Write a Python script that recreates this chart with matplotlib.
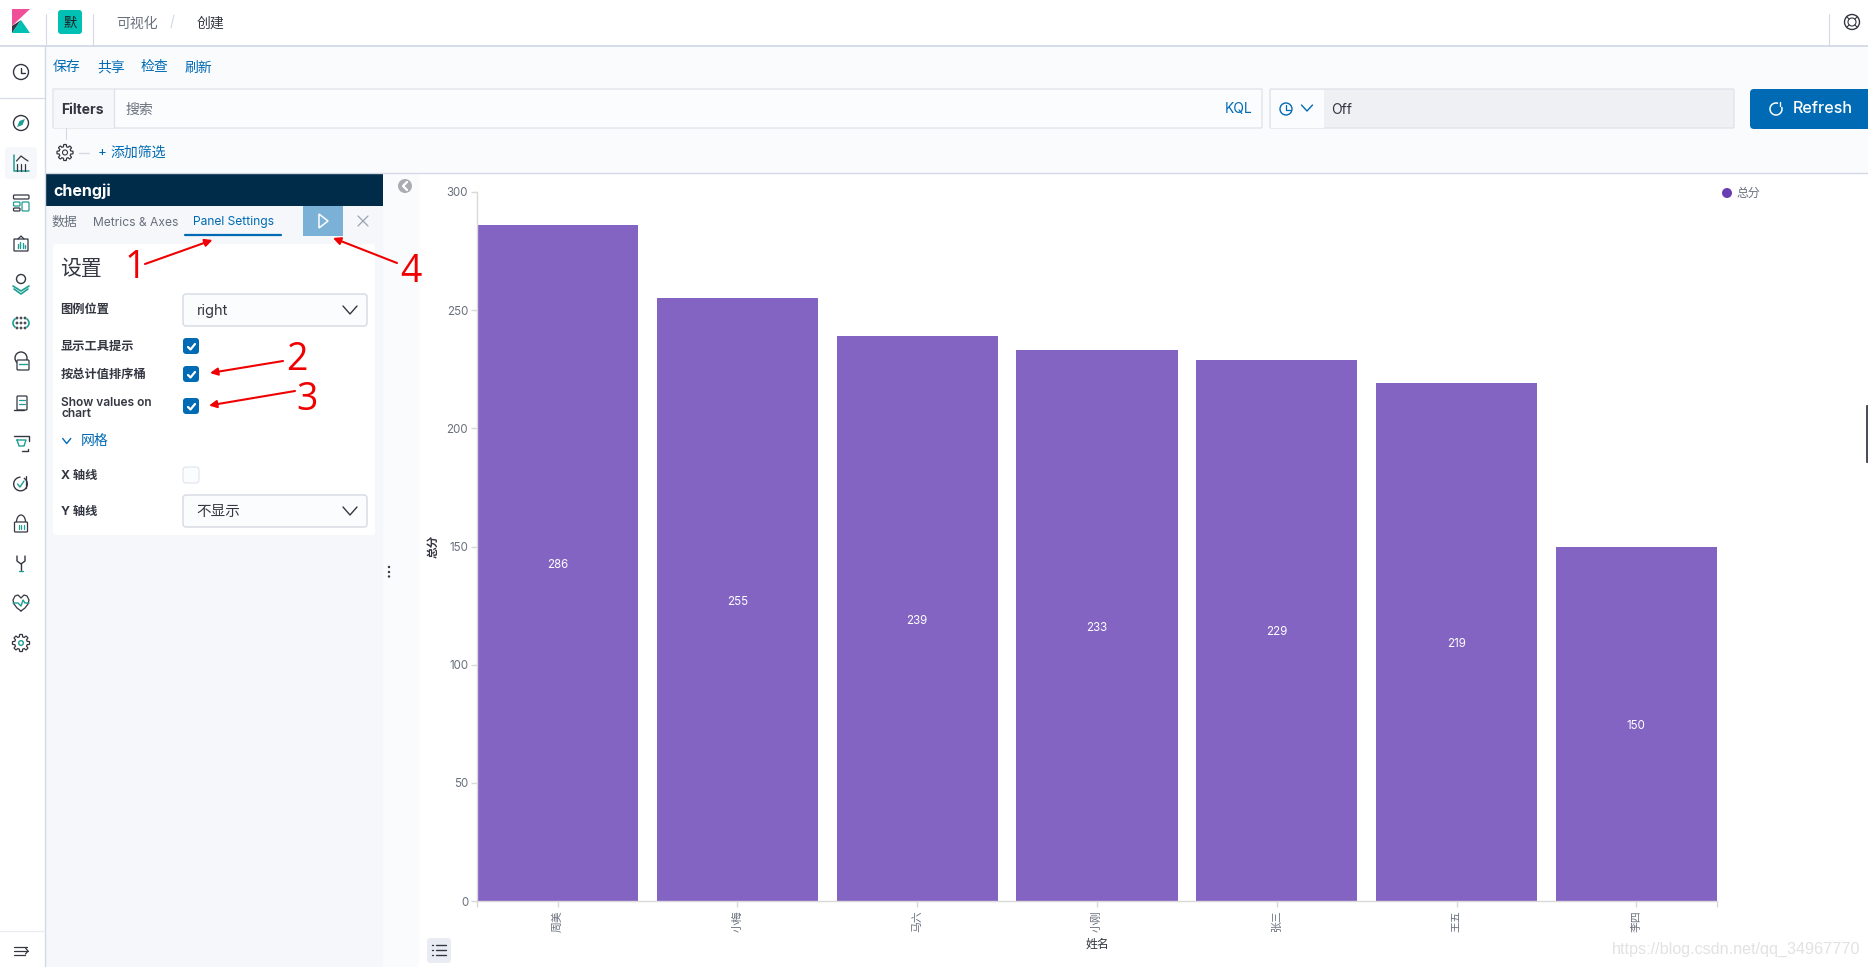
import math
import matplotlib
matplotlib.use('Agg')
import matplotlib.pyplot as plt
from matplotlib.patches import Rectangle, FancyBboxPatch, Circle, Polygon, Arc

plt.rcParams['font.family'] = ['Inter', 'Noto Sans CJK SC', 'DejaVu Sans']

names = ['周美', '小梅', '马六', '小刚', '张三', '王五', '李四']
totals = [286, 255, 239, 233, 229, 219, 150]
y_ticks = [0, 50, 100, 150, 200, 250, 300]
legend_label = '总分'
x_title = '姓名'
y_title = '总分'

W, H = 1868, 967
BLUE = '#006bb4'
DARK = '#343741'
TEAL = '#1f9e93'
BORDER = '#d3dae6'
PANEL = '#f5f7fa'
GREY = '#69707d'
RED = '#f00000'

fig = plt.figure(figsize=(W / 100, H / 100), dpi=100, facecolor='white')
ui = fig.add_axes([0, 0, 1, 1])
ui.set_xlim(0, W)
ui.set_ylim(H, 0)
ui.axis('off')


def box(x0, y0, x1, y1, color, edge='none', lw=0.0, z=1):
    ui.add_patch(Rectangle((x0, y0), x1 - x0, y1 - y0, fc=color, ec=edge, lw=lw, zorder=z))


def rbox(x0, y0, x1, y1, color, edge='none', lw=0.0, r=3, z=2):
    ui.add_patch(FancyBboxPatch((x0 + r, y0 + r), x1 - x0 - 2 * r, y1 - y0 - 2 * r,
                                boxstyle='round,pad=%s,rounding_size=%s' % (r, r),
                                fc=color, ec=edge, lw=lw, zorder=z))


def line(xs, ys, color=DARK, lw=1.0, z=4):
    ui.plot(xs, ys, color=color, lw=lw, zorder=z, solid_capstyle='round', solid_joinstyle='round')


def ring(x, y, r, color=DARK, lw=1.0, fc='none', z=4):
    ui.add_patch(Circle((x, y), r, fc=fc, ec=color, lw=lw, zorder=z))


def label(x, y, s, size=10, color=DARK, ha='left', weight='normal', z=5, **kw):
    ui.text(x, y + 1.5, s, fontsize=size, color=color, ha=ha, va='center', fontweight=weight, zorder=z, **kw)


def chevron(x, y, w=7, h=4, color=DARK, lw=1.0):
    line([x - w, x, x + w], [y - h, y + h, y - h], color, lw)


def checkbox(y0, on=True):
    if on:
        rbox(183, y0, 199, y0 + 16, BLUE, r=3)
        line([188, 190.5, 195], [y0 + 9, y0 + 11.5, y0 + 6], 'white', 1.6, z=5)
    else:
        rbox(183, y0, 199, y0 + 16, '#fbfcfd', edge='#dfe3ea', lw=0.8, r=3)


def arrow(start, end):
    ui.annotate('', xy=end, xytext=start, zorder=6,
                arrowprops=dict(arrowstyle='-|>', color=RED, lw=1.5, mutation_scale=11,
                                shrinkA=0, shrinkB=0))


def gear(x, y, r, color=DARK, lw=0.9):
    pts = []
    for i in range(8):
        a = i * math.pi / 4
        for da, rr in [(-0.26, r * 0.8), (-0.16, r * 1.08), (0.16, r * 1.08), (0.26, r * 0.8)]:
            pts.append((x + rr * math.cos(a + da), y + rr * math.sin(a + da)))
    ui.add_patch(Polygon(pts, fc='none', ec=color, lw=lw, zorder=4))


# page regions
box(0, 46, W, 173, '#fafbfd')
box(45, 173, 419, H, PANEL)
box(383, 174, 419, H, '#fafbfd')
box(0, 46, 45, H, 'white')
line([0, W], [46, 46], BORDER, 1.3)
line([45, W], [173, 173], BORDER, 1.0)
line([45, 45], [46, H], BORDER, 1.0)
line([45.5, 45.5], [14, 46], BORDER, 0.8)
line([93, 93], [14, 46], BORDER, 0.8)
line([1828.5, 1828.5], [14, 46], BORDER, 0.8)
line([0, 45], [98, 98], BORDER, 0.8)
line([0, 45], [931, 931], '#e8ebf0', 0.8)

# top bar
ui.add_patch(Polygon([(12, 9), (30, 9), (12, 26)], fc='#f04e98', zorder=3))
ui.add_patch(Polygon([(12, 26), (21, 20), (12, 33)], fc='#343741', zorder=3))
ui.add_patch(Polygon([(12, 33), (21, 20), (30, 33)], fc='#00bfb3', zorder=3))
rbox(58, 10, 82, 34, '#00bfb3', r=3)
label(70, 22, '默', 9.5, '#1a1c21', ha='center')
label(116.5, 22, '可视化', 10, GREY)
line([171, 174], [28, 15], BORDER, 0.8)
label(197, 22, '创建', 10, DARK)
ring(1852, 22, 7.5, DARK, 1.0)
ring(1852, 22, 4, DARK, 0.8)
for a in [45, 135, 225, 315]:
    c, s = math.cos(math.radians(a)), math.sin(math.radians(a))
    line([1852 + 4 * c, 1852 + 7.5 * c], [22 + 4 * s, 22 + 7.5 * s], DARK, 0.8)

# query bar
for x, s in [(53, '保存'), (97, '共享'), (141, '检查'), (185, '刷新')]:
    label(x, 66, s, 10, BLUE)
rbox(53, 89, 1262, 128, '#fbfcfd', edge='#e0e4ea', lw=1.0, r=1)
box(53.5, 89.5, 113.5, 127.5, PANEL, z=3)
line([113.5, 113.5], [89, 128], '#e0e4ea', 1.0)
label(61.5, 108.5, 'Filters', 10, DARK, weight='bold')
label(125.5, 108, '搜索', 10, GREY)
label(1225, 108, 'KQL', 10, BLUE)
rbox(1270, 89, 1734, 128, '#eef0f4', edge='#e0e4ea', lw=1.0, r=1)
box(1270.5, 89.5, 1323.5, 127.5, '#fbfcfd', z=3)
ring(1286, 109, 6, BLUE, 1.0)
line([1286, 1286, 1290], [105, 109.5, 109.5], BLUE, 0.9)
chevron(1307, 108, 5.5, 3, BLUE)
label(1331, 108, 'Off', 10, DARK)
rbox(1750, 89, 1874, 129, BLUE, r=4)
ui.add_patch(Arc((1776, 109), 12, 12, theta1=340, theta2=650, ec='white', lw=1.1, zorder=5))
line([1780, 1780], [102, 106], 'white', 1.0, z=5)
label(1793, 107, 'Refresh', 11.6, 'white', weight='medium')

# filter row
line([65.5, 65.5], [128, 139], BORDER, 0.8)
gear(65, 152.5, 7.5)
ring(65, 152.5, 2.5, DARK, 0.8)
line([79, 89], [152.5, 152.5], BORDER, 1.0)
label(102, 151.5, '+', 9.5, BLUE, ha='center')
label(110.5, 151.5, '添加筛选', 10, BLUE)

# editor panel header and tabs
box(45, 174, 383, 206, '#002b49', z=2)
label(53, 189.5, 'chengji', 11.5, 'white', weight='bold')
label(51.5, 221, '数据', 9.3, GREY)
label(93, 221, 'Metrics & Axes', 8.7, GREY)
label(193, 221, 'Panel Settings', 8.7, BLUE)
line([185, 281], [235, 235], BLUE, 1.6)
box(303, 206, 343, 236, '#7bb0d7', z=2)
ui.add_patch(Polygon([(319, 214), (328, 221), (319, 228)], fc='none', ec='white', lw=1.1, zorder=4))
line([358, 368], [216, 226], '#98a2b3', 0.9)
line([358, 368], [226, 216], '#98a2b3', 0.9)

# settings card
rbox(53, 244, 375, 535, 'white', r=3, z=1.5)
label(60, 267.5, '设置', 15, DARK)
label(60.5, 308.5, '图例位置', 8.8, DARK, weight='bold')
rbox(183, 294, 367, 326, '#fbfcfd', edge='#d5dae3', lw=1.0, r=3)
label(197, 309.5, 'right', 10.5, DARK)
chevron(350, 310)
label(61, 345, '显示工具提示', 8.8, DARK, weight='bold')
checkbox(338)
label(61, 373, '按总计值排序桶', 8.8, DARK, weight='bold')
checkbox(366)
label(61, 401, 'Show values on', 8.6, DARK, weight='semibold')
label(61, 412.5, 'chart', 8.6, DARK, weight='semibold')
checkbox(398)
chevron(66.7, 441, 4, 2.5, BLUE)
label(80.5, 439.5, '网格', 10, BLUE)
label(61, 474.5, 'X 轴线', 8.8, DARK, weight='bold')
checkbox(467, on=False)
label(61, 510.5, 'Y 轴线', 8.8, DARK, weight='bold')
rbox(183, 495, 367, 527, '#fbfcfd', edge='#d5dae3', lw=1.0, r=3)
label(196.5, 510.5, '不显示', 10.5, DARK)
chevron(350, 511)
for y in [567, 572, 576.5]:
    ui.add_patch(Circle((389, y), 1.2, fc=DARK, zorder=4))

# collapse button and list button
ui.add_patch(Circle((405, 186), 7, fc='#a9adb3', zorder=3))
line([407, 403, 407], [182, 186, 190], 'white', 1.6)
rbox(427, 938, 451, 963, '#e9edf3', r=3)
for y in [945, 950, 955]:
    line([432, 433], [y, y], DARK, 1.0)
    line([436, 446], [y, y], DARK, 1.0)

# red annotations
arrow((145, 264), (212.5, 240))
arrow((397, 263), (333, 238))
arrow((283, 361), (210, 373))
arrow((295, 391), (209, 405.5))
for x, y, s in [(135, 268.5, '1'), (411, 272.5, '4'), (297, 360.5, '2'), (307, 400.5, '3')]:
    ui.text(x, y, s, fontsize=27, color=RED, ha='center', va='center', family='Open Sans', zorder=6)

# sidebar icons
ICON_X = 21
rbox(5, 147, 37, 179, PANEL, r=4)
ring(ICON_X, 72, 7.5)
line([ICON_X, ICON_X, ICON_X + 4], [68, 72.5, 72.5], DARK, 1.0)
ring(ICON_X, 123, 7.5)
ui.add_patch(Polygon([(25, 119), (22.5, 125), (17, 127), (19.5, 121)], fc=TEAL, zorder=4))
line([13.5, 13.5, 29], [155, 171, 171], TEAL, 1.1)
line([16.5, 21, 25, 28], [161, 156, 159, 161], DARK, 0.9)
for x in [16.5, 21, 25]:
    line([x, x], [164, 171], DARK, 0.9)
rbox(13.5, 195, 29, 199, 'none', edge=DARK, lw=0.9, r=1, z=4)
rbox(13.5, 202, 20, 206, 'none', edge=TEAL, lw=0.9, r=1, z=4)
rbox(13.5, 208, 20, 211, 'none', edge=DARK, lw=0.9, r=1, z=4)
rbox(22, 202, 29, 211, 'none', edge=TEAL, lw=0.9, r=1, z=4)
rbox(14, 239, 28, 251, 'none', edge=DARK, lw=0.9, r=0.5, z=4)
line([18, 21, 24], [239, 236, 239], DARK, 0.9)
for x, h in [(17.5, 4), (20, 6), (22.5, 5), (25, 3)]:
    line([x, x], [248, 248 - h], TEAL, 1.0)
ring(ICON_X, 279, 4.5)
line([13, 21, 29], [286, 291, 286], TEAL, 1.2)
line([14, 21, 28], [289, 294, 289], TEAL, 1.2)
for dx, dy in [(-4, -5), (0, -5), (4, -5), (-4, 0), (0, 0), (4, 0), (-4, 5), (0, 5), (4, 5)]:
    ring(ICON_X + dx, 323 + dy, 0.9, DARK, 0.7)
ui.add_patch(Arc((ICON_X, 323), 16, 12, theta1=140, theta2=220, ec=TEAL, lw=1.2, zorder=4))
ui.add_patch(Arc((ICON_X, 323), 16, 12, theta1=320, theta2=400, ec=TEAL, lw=1.2, zorder=4))
ring(ICON_X, 358, 6)
rbox(17, 360, 29, 370, 'white', edge=DARK, lw=0.9, r=1, z=4.5)
line([19, 27], [364, 364], TEAL, 1.0, z=5)
rbox(17, 396, 27, 410, 'none', edge=DARK, lw=0.9, r=1, z=4)
line([14, 24], [410, 410], DARK, 1.0)
line([19, 25], [400, 400], TEAL, 0.9)
line([19, 25], [404, 404], TEAL, 0.9)
line([14, 29, 29], [436, 436, 441], DARK, 1.0)
line([17, 26, 24, 19, 17], [440, 440, 446, 446, 440], TEAL, 1.0)
line([22, 28, 28], [451, 451, 449], DARK, 1.0)
ui.add_patch(Arc((20.5, 484), 13.6, 13.6, theta1=-60, theta2=270, ec=DARK, lw=1.0, zorder=4))
line([17.5, 20, 24], [484, 487, 481], TEAL, 1.0)
line([26, 26], [476, 488], DARK, 0.9)
rbox(14.5, 522, 27.5, 532, 'none', edge=DARK, lw=0.9, r=1, z=4)
ui.add_patch(Arc((21, 522), 9, 14, theta1=180, theta2=360, ec=DARK, lw=0.9, zorder=4))
for x in [18.5, 21, 23.5]:
    line([x, x], [525, 529], TEAL, 0.9)
line([17, 17, 21, 25, 25], [556, 561, 564, 561, 556], DARK, 1.0)
line([21, 21], [564, 570], DARK, 1.0)
line([19, 23], [571, 571], TEAL, 1.0)
line([21, 17, 14, 13, 15, 18, 21, 24, 27, 29, 28, 25, 21],
     [611, 608, 604, 600, 596, 595, 598, 595, 596, 600, 604, 608, 611], DARK, 0.9)
line([13, 18, 21, 23, 25, 29], [603, 603, 606, 600, 603, 603], TEAL, 1.0, z=5)
gear(ICON_X, 643, 8)
ring(ICON_X, 643, 2.3, TEAL, 1.0)
line([14, 27], [947, 947], DARK, 0.9)
line([14, 28], [951, 951], DARK, 0.9)
line([14, 25], [955, 955], DARK, 0.9)
line([25.5, 28, 25.5], [948, 951, 954], DARK, 0.9)

# other bits on the page edge
rbox(1866, 405, 1872, 463, '#4a4e5a', r=1)
ui.text(1860, 949, 'https://blog.csdn.net/qq_34967770', fontsize=11.6, color='#e2e2e2', ha='right',
        va='center', family='Liberation Sans', zorder=5)

# the chart
AX_L, AX_R, AX_T, AX_B = 477, 1717, 192, 901
ax = fig.add_axes([AX_L / W, 1 - AX_B / H, (AX_R - AX_L) / W, (AX_B - AX_T) / H])
ax.patch.set_alpha(0)
positions = list(range(len(names)))
ax.bar(positions, totals, width=0.898, color='#8464c2', linewidth=0)
for pos, value in zip(positions, totals):
    ax.annotate(str(value), (pos, value / 2), xytext=(0, -1.5), textcoords='offset points',
                ha='center', va='center', color='white', fontsize=8.3)
ax.set_xlim(-0.449, len(names) - 1 + 0.449)
ax.set_ylim(0, 300)
ax.set_yticks(y_ticks)
ax.set_xticks(positions)
ax.set_xticklabels(names, rotation=90, fontsize=7.8, color=GREY)
ax.set_xticks([-0.449, len(names) - 1 + 0.449], minor=True)
ax.tick_params(axis='x', which='both', length=5.5 * 0.72, width=1.0, color='#d9d9d9', pad=2.5)
ax.tick_params(axis='y', length=6 * 0.72, width=1.0, color='#d9d9d9', labelsize=8.3, labelcolor=GREY, pad=2)
for tick in ax.get_yticklabels():
    tick.set_verticalalignment('center_baseline')
for side in ['top', 'right']:
    ax.spines[side].set_visible(False)
for side in ['left', 'bottom']:
    ax.spines[side].set_color('#d9d9d9')
    ax.spines[side].set_linewidth(1.0)
ax.set_xlabel(x_title, fontsize=8.6, color=DARK, fontweight='medium')
ax.xaxis.set_label_coords(0.5, -(945 - AX_B) / (AX_B - AX_T), transform=ax.transAxes)
ax.xaxis.label.set_va('center')
ax.set_ylabel(y_title, fontsize=8.4, color=DARK, fontweight='bold')
ax.yaxis.set_label_coords(-(AX_L - 433) / (AX_R - AX_L), 0.5, transform=ax.transAxes)
ax.yaxis.label.set_va('center')

# legend on top
ui.add_patch(Circle((1727, 193), 5, fc='#6a3eb3', zorder=5))
label(1736, 192.5, legend_label, 8.6, GREY)

fig.savefig('out.png', dpi=100, facecolor='white')
